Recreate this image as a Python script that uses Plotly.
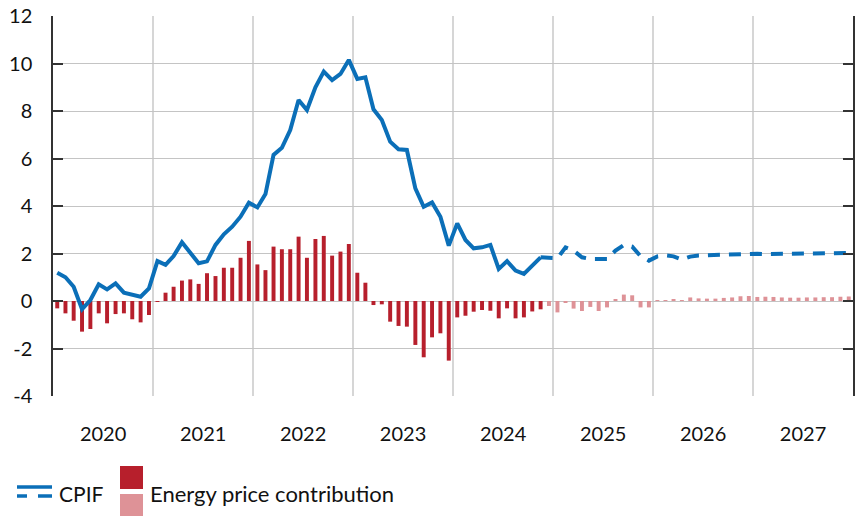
import pandas as pd
import plotly.graph_objs as go

# monthly periods
months_hist = [d.strftime("%Y-%m-01") for d in pd.date_range("2020-01-01", "2024-11-01", freq="MS")]
months_fc = [d.strftime("%Y-%m-01") for d in pd.date_range("2024-12-01", "2027-12-01", freq="MS")]

# CPIF, annual % change (outcome)
cpif_hist = [
    1.19, 1.00, 0.60, -0.35, 0.04, 0.70, 0.49, 0.74, 0.35, 0.28, 0.18, 0.53,
    1.68, 1.52, 1.89, 2.47, 2.00, 1.59, 1.67, 2.36, 2.81, 3.13, 3.55, 4.14,
    3.94, 4.50, 6.15, 6.45, 7.20, 8.46, 8.04, 9.00, 9.66, 9.30, 9.56, 10.15,
    9.35, 9.42, 8.07, 7.62, 6.71, 6.39, 6.36, 4.74, 3.97, 4.15, 3.55, 2.33,
    3.27, 2.57, 2.22, 2.26, 2.36, 1.35, 1.68, 1.28, 1.14, 1.49, 1.84,
]
# CPIF forecast
cpif_fc = [
    1.81,
    1.80, 2.26, 2.12, 1.84, 1.77, 1.77, 1.77, 2.12, 2.36, 2.29, 1.89, 1.70,
    1.88, 1.92, 1.88, 1.75, 1.87, 1.92, 1.93, 1.95, 1.97, 1.99, 2.00, 2.00,
    1.99, 1.98, 1.98, 1.98, 1.98, 1.98, 1.99, 1.99, 1.99, 2.00, 2.00, 2.02,
]

# energy price contribution, percentage points
energy_hist = [
    -0.31, -0.52, -0.83, -1.29, -1.18, -0.52, -0.94, -0.55, -0.52, -0.77, -0.90, -0.59,
    -0.03, 0.35, 0.60, 0.86, 0.91, 0.72, 1.17, 1.05, 1.40, 1.40, 1.82, 2.53,
    1.54, 1.30, 2.29, 2.18, 2.18, 2.71, 1.82, 2.61, 2.74, 1.91, 2.08, 2.40,
    1.19, 0.77, -0.17, -0.14, -0.87, -1.05, -1.08, -1.85, -2.37, -1.53, -1.36, -2.51,
    -0.69, -0.62, -0.45, -0.38, -0.41, -0.73, -0.31, -0.73, -0.69, -0.44, -0.35,
]
energy_fc = [
    -0.21,
    -0.48, -0.06, -0.32, -0.42, -0.25, -0.42, -0.27, 0.07, 0.27, 0.24, -0.27, -0.27,
    0.04, 0.04, 0.07, 0.01, 0.15, 0.11, 0.10, 0.10, 0.13, 0.15, 0.20, 0.21,
    0.17, 0.18, 0.17, 0.15, 0.14, 0.14, 0.15, 0.15, 0.16, 0.16, 0.18, 0.19,
]

y_ticks = [-4, -2, 0, 2, 4, 6, 8, 10, 12]
y_labels = ["-4", "-2", "0", "2", "4", "6", "8", "10", "12"]

BLUE = "#0b6fb8"
RED = "#b71f2c"
PINK = "#de9297"
FONT = "Lato"
BAR_W = 4 * 86400000 * 30 / 8.33  # about 4 px in ms

fig = go.Figure()
fig.add_trace(go.Bar(x=months_hist, y=energy_hist, marker=dict(color=RED, line=dict(width=0)),
                     xperiod="M1", xperiodalignment="middle", width=BAR_W, showlegend=False))
fig.add_trace(go.Bar(x=months_fc, y=energy_fc, marker=dict(color=PINK, line=dict(width=0)),
                     xperiod="M1", xperiodalignment="middle", width=BAR_W, showlegend=False))
fig.add_trace(go.Scatter(x=months_hist, y=cpif_hist, mode="lines", line=dict(color=BLUE, width=4),
                         xperiod="M1", xperiodalignment="middle", showlegend=False))
fig.add_trace(go.Scatter(x=months_hist[-1:] + months_fc, y=cpif_hist[-1:] + cpif_fc, mode="lines",
                         line=dict(color=BLUE, width=4, dash="12px,9px"),
                         xperiod="M1", xperiodalignment="middle", showlegend=False))

fig.update_layout(
    width=858, height=516,
    margin=dict(l=53, r=5, t=16, b=120, autoexpand=False),
    plot_bgcolor="white", paper_bgcolor="white",
    barmode="overlay",
    font=dict(family=FONT, size=20, color="#111"),
    xaxis=dict(type="date", range=["2020-01-01", "2028-01-01"], dtick="M12", tick0="2020-01-01",
               tickformat="%Y", ticklabelmode="period", ticks="", ticklabelstandoff=24,
               showgrid=True, gridcolor="#d6d6d6", gridwidth=1.5, showline=False, zeroline=False,
               automargin=False),
    yaxis=dict(range=[-4, 12], tickvals=y_ticks, ticktext=y_labels, showgrid=True,
               gridcolor="#c4c4c4", gridwidth=1,
               zeroline=False, showline=True, linecolor="#333", linewidth=1.5, mirror="ticks",
               ticks="inside", ticklen=10, tickcolor="#333", tickwidth=1.5, ticklabelstandoff=15,
               ticklabeloverflow="allow", automargin=False),
)

# custom legend below the chart
fig.add_shape(type="line", xref="paper", yref="paper", x0=-36 / 800, x1=-1 / 800,
              y0=-91 / 380, y1=-91 / 380, line=dict(color=BLUE, width=3.5))
fig.add_shape(type="line", xref="paper", yref="paper", x0=-36 / 800, x1=-26 / 800,
              y0=-100 / 380, y1=-100 / 380, line=dict(color=BLUE, width=3.5))
fig.add_shape(type="line", xref="paper", yref="paper", x0=-15 / 800, x1=-1 / 800,
              y0=-100 / 380, y1=-100 / 380, line=dict(color=BLUE, width=3.5))
fig.add_shape(type="rect", xref="paper", yref="paper", x0=67 / 800, x1=90 / 800,
              y0=-93 / 380, y1=-70 / 380, fillcolor=RED, line=dict(width=0))
fig.add_shape(type="rect", xref="paper", yref="paper", x0=67 / 800, x1=90 / 800,
              y0=-120 / 380, y1=-98 / 380, fillcolor=PINK, line=dict(width=0))
fig.add_annotation(text="CPIF", xref="paper", yref="paper", x=4 / 800, y=-97 / 380,
                   xanchor="left", yanchor="middle", showarrow=False, font=dict(size=21))
fig.add_annotation(text="Energy price contribution", xref="paper", yref="paper", x=95 / 800,
                   y=-97 / 380, xanchor="left", yanchor="middle", showarrow=False, font=dict(size=22))

# drop the default page margin so the figure sits at the top-left corner
fig.write_html("out.html", config={"displayModeBar": False},
               post_script="document.body.style.margin = '0';")
